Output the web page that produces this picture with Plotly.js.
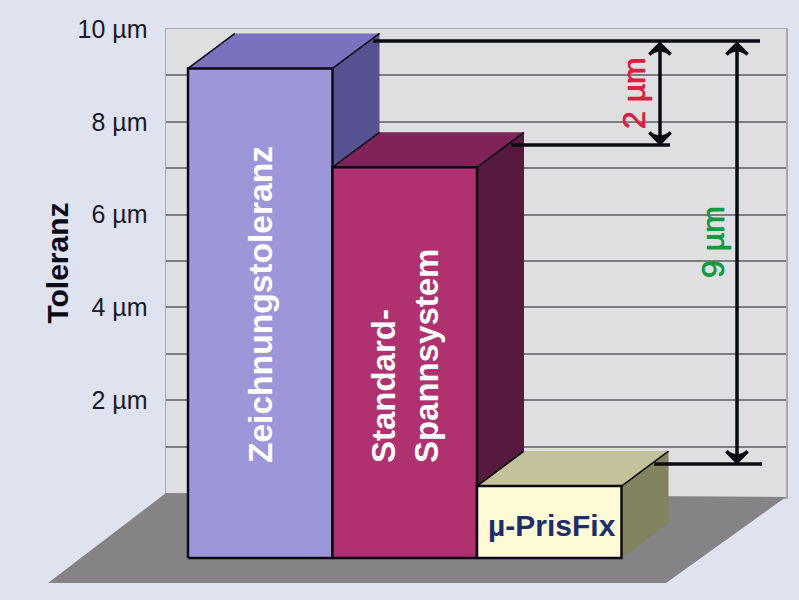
<!DOCTYPE html>
<html>
<head>
<meta charset="utf-8">
<script src="https://cdn.plot.ly/plotly-3.0.1.min.js"></script>
<style>html,body{margin:0;padding:0;background:#dfe2ef}</style>
</head>
<body>
<div id="chart" style="width:799px;height:600px"></div>
<script>
// --- data ---
const categories = ['Zeichnungstoleranz', 'Standard-<br>Spannsystem', 'µ-PrisFix'];
const barValues = [10, 7.87, 1];           // µm
const tickValues = [2, 4, 6, 8, 10];
const tickLabels = ['2 µm', '4 µm', '6 µm', '8 µm', '10 µm'];
const minorValues = [1, 3, 5, 7, 9];
const frontColors = ['#9d96d9', '#b0316f', '#fdfad5'];
const topColors = ['#7a72bf', '#7f2358', '#c3c29a'];
const sideColors = ['#565190', '#551a3d', '#83845f'];
const labelX = [94, 239, 386];
const labelY = [4.05, 2.95, -0.69];
const labelColors = ['#ffffff', '#ffffff', '#1f2d6b'];
const labelSizes = [33.6, 33, 30];

// pseudo-3D projection, in axis units
const barLeft = 22, barWidth = 144.5, depthX = 47, depthY = 0.754;
const frontShift = -0.85, barBase = -0.55;
const floorX = [0, 620, 500, -118], floorY = [0, -0.086, -1.94, -1.94];

// dimension lines
const refLineX = [[207, 594], [345, 504], [488, 596]];
const refLineY = [9.74, 7.5, 0.625];
const arrowX = [494, 571];
const arrowTop = [9.68, 9.68], arrowBottom = [7.54, 0.67];
const dimLabels = ['2 µm', '9 µm'];
const dimLabelX = [468, 547], dimLabelY = [8.62, 5.41];
const dimColors = ['#d9213f', '#159a3f'];

const face = (x, y, color, line) => ({
  type: 'scatter', xaxis: 'x2', yaxis: 'y2', mode: line ? 'lines' : 'none',
  x: x.concat(x[0]), y: y.concat(y[0]),
  fill: 'toself', fillcolor: color, hoverinfo: 'skip',
  line: line ? {color: '#0a0a14', width: line} : {width: 0}
});
const stroke = (x, y, w) => ({
  type: 'scatter', xaxis: 'x2', yaxis: 'y2', mode: 'lines', x, y, hoverinfo: 'skip',
  line: {color: '#0a0a12', width: w}
});

// the wall's axes need a trace to exist
const traces = [{type: 'scatter', mode: 'lines', x: [0, 620], y: [0, 10], line: {width: 0}, hoverinfo: 'skip'}];
traces.push(face(floorX, floorY, '#858386'));
barValues.forEach((v, i) => {
  const l = barLeft + i * barWidth, r = l + barWidth;
  const t = v + frontShift, b = barBase + frontShift;
  traces.push(face([r, r + depthX, r + depthX, r], [b, b + depthY, t + depthY, t], sideColors[i]));
  traces.push(face([l, r, r + depthX, l + depthX], [t, t, t + depthY, t + depthY], topColors[i]));
  traces.push(face([l, r, r, l], [b, b, t, t], frontColors[i], 2.5));
  traces.push(stroke([l, l + depthX], [t, t + depthY], 1.5));
  traces.push(stroke([r, r + depthX], [t, t + depthY], 1.5));
});
refLineX.forEach((x, i) => traces.push(stroke(x, [refLineY[i], refLineY[i]], 3.5)));
arrowX.forEach((x, i) => {
  traces.push({
    type: 'scatter', xaxis: 'x2', yaxis: 'y2', mode: 'lines+markers', x: [x, x], y: [arrowTop[i], arrowBottom[i]],
    hoverinfo: 'skip', line: {color: '#0a0a12', width: 3.5},
    marker: {symbol: 'arrow-wide-open', size: 15, angle: [0, 180], color: '#0a0a12',
             line: {color: '#0a0a12', width: 3.5}}
  });
});

const annotations = categories.map((c, i) => ({
  x: labelX[i], y: labelY[i], text: '<b>' + c + '</b>', textangle: i < 2 ? -90 : 0,
  showarrow: false, align: 'left', xref: 'x2', yref: 'y2',
  font: {family: 'Liberation Sans', size: labelSizes[i], color: labelColors[i]}
})).concat(dimLabels.map((t, i) => ({
  x: dimLabelX[i], y: dimLabelY[i], text: t, textangle: -90, showarrow: false, xref: 'x2', yref: 'y2',
  font: {family: 'Liberation Sans', size: 32, color: dimColors[i],
         shadow: '0.5px 0 0 ' + dimColors[i] + ', -0.5px 0 0 ' + dimColors[i]}
})));

const layout = {
  width: 799, height: 600, showlegend: false, hovermode: false,
  paper_bgcolor: '#dfe2ef', plot_bgcolor: 'rgba(0,0,0,0)',
  margin: {l: 0, t: 0, r: 0, b: 0},
  xaxis: {domain: [166 / 799, 786 / 799], range: [0, 620], showticklabels: false, ticks: '',
          showgrid: false, zeroline: false,
          showline: true, mirror: true, linecolor: '#aaaaae', linewidth: 1.5},
  yaxis: {domain: [103 / 600, 571 / 600], range: [-0.086, 10], tickmode: 'array',
          tickvals: tickValues, ticktext: tickLabels, ticks: '',
          ticklabelstandoff: 12, showgrid: true, gridcolor: '#7e7c80', gridwidth: 2,
          zeroline: false, showline: true, mirror: true, linecolor: '#aaaaae', linewidth: 1.5,
          tickfont: {family: 'Liberation Sans', size: 25, color: '#1a1a2a'},
          minor: {tickvals: minorValues, showgrid: true, gridcolor: '#7e7c80', gridwidth: 2, ticks: ''},
          title: {text: '<b>Toleranz</b>', standoff: 0,
                  font: {family: 'Liberation Sans', size: 30, color: '#0c0c18'}}},
  // full-page axes, same units as the wall axes, so the projected solids can leave the wall
  xaxis2: {domain: [0, 1], range: [-166, 633], visible: false, anchor: 'y2'},
  yaxis2: {domain: [0, 1], range: [-2.306, 10.625], visible: false, anchor: 'x2'},
  shapes: [{type: 'rect', layer: 'below', xref: 'x', yref: 'y', x0: 0, x1: 620, y0: -0.086, y1: 10,
            fillcolor: '#dfdfe2', line: {width: 0}}],
  annotations
};
Plotly.newPlot('chart', traces, layout, {displayModeBar: false, staticPlot: true});
</script>
</body>
</html>
